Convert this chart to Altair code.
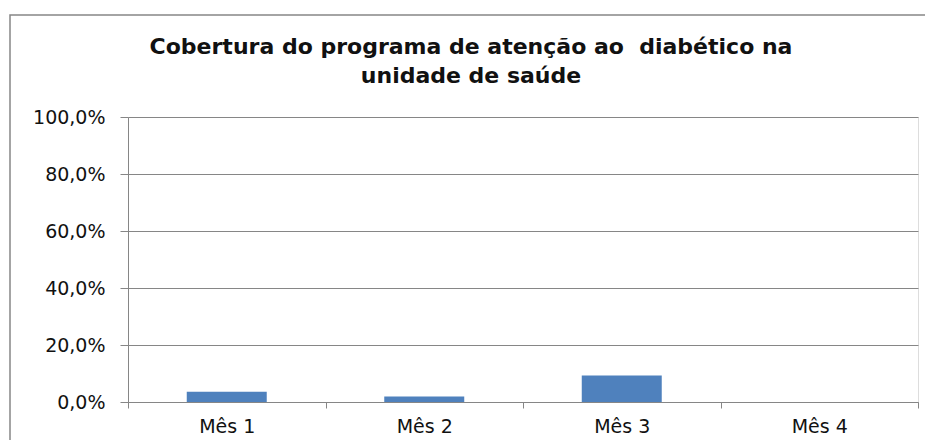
import altair as alt
import pandas as pd

months = ["Mês 1", "Mês 2", "Mês 3", "Mês 4"]
coverage = [0.036, 0.019, 0.093, 0.0]
y_ticks = [0.0, 0.2, 0.4, 0.6, 0.8, 1.0]
title_lines = ["Cobertura do programa de atenção ao\u00a0 diabético na", "unidade de saúde"]

df = pd.DataFrame({"mes": months, "cobertura": coverage})
one = pd.DataFrame({"k": [0]})

FONT = "DejaVu Sans"
GRID = "#868686"

bars = alt.Chart(df).mark_bar(color="#4F81BD", width=alt.RelativeBandSize(0.405)).encode(
    x=alt.X("mes:N", sort=months, title=None,
            scale=alt.Scale(paddingInner=0, paddingOuter=0),
            axis=alt.Axis(labelAngle=0, tickBand="extent", tickSize=6,
                          tickColor=GRID, domainColor=GRID, labelPadding=9,
                          labelFontSize=19, labelFont=FONT, labelColor="#111")),
    y=alt.Y("cobertura:Q", title=None,
            scale=alt.Scale(domain=[0, 1]),
            axis=alt.Axis(values=y_ticks, tickSize=8, tickColor=GRID,
                          domainColor=GRID, gridColor=GRID, grid=True,
                          labelPadding=15, labelFontSize=19, labelFont=FONT,
                          labelColor="#111",
                          labelExpr="replace(format(datum.value, '.1%'), '.', ',')")),
)

border = alt.Chart(one).mark_rect(
    fill=None, stroke=GRID, strokeWidth=1.5
).encode(
    x=alt.value(-118), x2=alt.value(800),
    y=alt.value(-102), y2=alt.value(340),
)

title1 = alt.Chart(one).mark_text(
    font=FONT, fontSize=22, fontWeight="bold", color="#111",
    align="center", baseline="middle"
).encode(x=alt.value(343), y=alt.value(-70), text=alt.value(title_lines[0]))

title2 = alt.Chart(one).mark_text(
    font=FONT, fontSize=22, fontWeight="bold", color="#111",
    align="center", baseline="middle"
).encode(x=alt.value(343), y=alt.value(-41), text=alt.value(title_lines[1]))

chart = alt.layer(border, title1, title2, bars).properties(
    width=790, height=285,
    autosize=alt.AutoSizeParams(type="none"),
    padding={"left": 120, "top": 109, "right": 7, "bottom": 38},
).configure_view(stroke=None).configure(background="white")

chart.save("out.html", embed_options={"renderer": "svg", "actions": False})
